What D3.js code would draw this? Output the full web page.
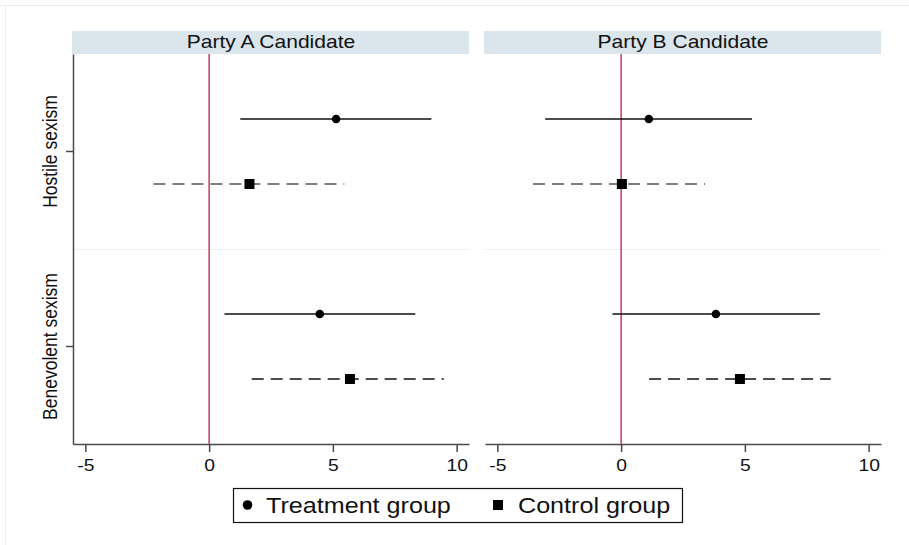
<!DOCTYPE html>
<html>
<head>
<meta charset="utf-8">
<script src="https://cdn.jsdelivr.net/npm/d3@7"></script>
<style>
  body { margin: 0; background: #fff; }
  svg { display: block; font-family: "Liberation Sans", Arial, sans-serif; }
</style>
</head>
<body>
<svg id="chart" width="909" height="545"></svg>
<script>
// panels, rows, groups
var panels = ["Party A Candidate", "Party B Candidate"];
var outcomes = ["Hostile sexism", "Benevolent sexism"];
var groups = ["Treatment group", "Control group"];
var xTicks = [-5, 0, 5, 10];

// estimates per panel, [hostile, benevolent]
var treatPoint = [[5.13, 4.47], [1.12, 3.83]];
var treatLo    = [[1.26, 0.62], [-3.07, -0.35]];
var treatHi    = [[8.98, 8.33], [5.29, 8.03]];
var ctrlPoint  = [[1.63, 5.69], [0.03, 4.80]];
var ctrlLo     = [[-2.25, 1.72], [-3.56, 1.13]];
var ctrlHi     = [[5.46, 9.48], [3.39, 8.47]];

var SX = 1.17; // the picture text is a bit wide

var svg = d3.select("#chart");

// faint outer frame (top and left only)
svg.append("line").attr("x1", 0).attr("y1", 5.5).attr("x2", 909).attr("y2", 5.5)
    .style("stroke", "#e8efef").style("stroke-width", 1);
svg.append("line").attr("x1", 5.5).attr("y1", 5).attr("x2", 5.5).attr("y2", 545)
    .style("stroke", "#e8efef").style("stroke-width", 1);

var plotTop = 54, plotBottom = 444;
var panelRanges = [[73, 469], [485, 881]];

var yBand = d3.scaleBand().domain(outcomes).range([plotTop, plotBottom]);
var yInner = d3.scalePoint().domain(groups).range([0, yBand.bandwidth()]).padding(1);

function wideText(g, x, y, str, size, anchor) {
    return g.append("text")
        .attr("transform", "translate(" + x + "," + y + ") scale(" + SX + ",1)")
        .attr("text-anchor", anchor || "middle")
        .style("font-size", size + "px")
        .style("fill", "#111")
        .text(str);
}

var rows = [];
groups.forEach(function (grp, gi) {
    outcomes.forEach(function (out, oi) {
        rows.push({ group: grp, outcome: out, gi: gi, oi: oi });
    });
});

panels.forEach(function (title, p) {
    var x = d3.scaleLinear().domain([-5.5, 10.5]).range(panelRanges[p]);
    var g = svg.append("g");

    // strip
    g.append("rect")
        .attr("x", panelRanges[p][0] - 1).attr("y", 31)
        .attr("width", panelRanges[p][1] - panelRanges[p][0] + 1).attr("height", 23)
        .style("fill", "#dae6ec");
    wideText(g, (panelRanges[p][0] + panelRanges[p][1]) / 2, 47.5, title, 18);

    // band separator
    g.append("line")
        .attr("x1", panelRanges[p][0]).attr("x2", panelRanges[p][1])
        .attr("y1", yBand(outcomes[1]) + 0.5).attr("y2", yBand(outcomes[1]) + 0.5)
        .style("stroke", "#eaf0f0").style("stroke-width", 1);

    // x axis
    var ax = g.append("g")
        .attr("transform", "translate(0," + plotBottom + ")")
        .call(d3.axisBottom(x).tickValues(xTicks).tickFormat(function (d) { return String(d); })
            .tickSize(8).tickPadding(7).tickSizeOuter(0));
    ax.select(".domain").style("stroke", "#4a4a4a").style("stroke-width", 1.5);
    ax.selectAll(".tick line").style("stroke", "#4a4a4a").style("stroke-width", 1.5);
    ax.selectAll(".tick text")
        .style("font-size", "16.5px").style("fill", "#111")
        .attr("transform", "scale(" + SX + ",1)")
        .attr("font-family", null);

    // y axis on the left panel only
    if (p === 0) {
        var ay = g.append("g")
            .attr("transform", "translate(" + panelRanges[p][0] + ",0)")
            .call(d3.axisLeft(yBand).tickSize(7).tickFormat("").tickSizeOuter(0));
        ay.select(".domain").style("stroke", "#4a4a4a").style("stroke-width", 1.5);
        ay.selectAll(".tick line").style("stroke", "#4a4a4a").style("stroke-width", 1.5);
        outcomes.forEach(function (out) {
            g.append("text")
                .attr("transform", "translate(57," + (yBand(out) + yBand.bandwidth() / 2) + ") scale(" + SX + ",1) rotate(-90)")
                .attr("text-anchor", "middle")
                .style("font-size", "17.5px")
                .style("fill", "#111")
                .text(out);
        });
    }

    // zero line
    g.append("line")
        .attr("x1", x(0)).attr("x2", x(0))
        .attr("y1", plotTop).attr("y2", plotBottom)
        .style("stroke", "#c83c5c").style("stroke-width", 1.5);

    // intervals
    rows.forEach(function (r) {
        var lo = r.gi === 0 ? treatLo[p][r.oi] : ctrlLo[p][r.oi];
        var hi = r.gi === 0 ? treatHi[p][r.oi] : ctrlHi[p][r.oi];
        var yy = yBand(r.outcome) + yInner(r.group);
        g.append("line")
            .attr("x1", x(lo)).attr("x2", x(hi))
            .attr("y1", yy).attr("y2", yy)
            .style("stroke", r.gi === 0 ? "#111" : (r.oi === 0 ? "#555" : "#111"))
            .style("stroke-width", 1.5)
            .style("stroke-dasharray", r.gi === 0 ? null : "12,7");
    });

    // points
    rows.forEach(function (r) {
        var yy = yBand(r.outcome) + yInner(r.group);
        if (r.gi === 0) {
            g.append("circle")
                .attr("cx", x(treatPoint[p][r.oi])).attr("cy", yy).attr("r", 4.3)
                .style("fill", "#000");
        } else {
            g.append("rect")
                .attr("x", x(ctrlPoint[p][r.oi]) - 5).attr("y", yy - 5)
                .attr("width", 10).attr("height", 10)
                .style("fill", "#000");
        }
    });
});

// legend
var leg = svg.append("g");
leg.append("rect")
    .attr("x", 233.5).attr("y", 488.5).attr("width", 449).attr("height", 34)
    .style("fill", "#fff").style("stroke", "#111").style("stroke-width", 1.2);
leg.append("circle").attr("cx", 247.5).attr("cy", 505).attr("r", 4.8).style("fill", "#000");
wideText(leg, 266, 512.5, groups[0], 21.5, "start");
leg.append("rect").attr("x", 493).attr("y", 500).attr("width", 10).attr("height", 10).style("fill", "#000");
wideText(leg, 518, 512.5, groups[1], 21.5, "start");
</script>
</body>
</html>
